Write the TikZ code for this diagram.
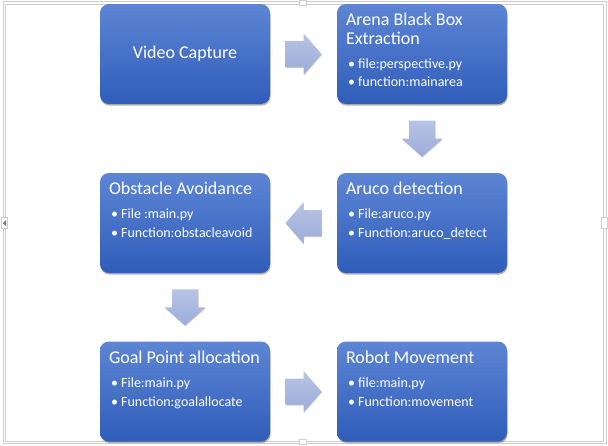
\documentclass[tikz,border=0pt]{standalone}
\usepackage{fontspec}
\setmainfont{Carlito}
\usetikzlibrary{shadows,calc}
\definecolor{boxtop}{RGB}{93,133,212}
\definecolor{boxbot}{RGB}{47,93,185}
\definecolor{arrtop}{RGB}{184,196,229}
\definecolor{arrbot}{RGB}{155,172,216}
\definecolor{framec}{RGB}{205,205,205}
\tikzset{
  flowbox/.style={rounded corners=9pt, minimum width=170pt, minimum height=100pt,
    inner sep=0pt, top color=boxtop, bottom color=boxbot,
    drop shadow={shadow xshift=0.6pt, shadow yshift=-1.6pt, opacity=0.3, fill=black}},
  titletxt/.style={anchor=base west, inner sep=0pt, text=white, font=\fontsize{18}{19}\selectfont},
  bullettxt/.style={anchor=base west, inner sep=0pt, text=white, font=\fontsize{14}{16}\selectfont},
  blockarr/.style={top color=arrtop, bottom color=arrbot, draw=none,
    drop shadow={shadow xshift=0.5pt, shadow yshift=-1pt, opacity=0.2, fill=black}},
  frameline/.style={draw=framec, line width=0.8pt}
}
\begin{document}
\begin{tikzpicture}[x=1pt, y=-1pt]
\useasboundingbox (0,0) rectangle (608,445);
\fill[white] (0,0) rectangle (608,445);
% frame (double)
\draw[frameline] (3,1.5) rectangle (606,443.5);
\draw[frameline] (5.5,4) rectangle (603.5,441.5);
\node[frameline, fill=white, minimum width=7pt, minimum height=5pt, inner sep=0pt] (htop) at (303,2.5) {};
\node[frameline, fill=white, minimum width=7pt, minimum height=5pt, inner sep=0pt] (hbot) at (303,442) {};
\node[frameline, fill=white, minimum width=6pt, minimum height=11pt, inner sep=0pt] (hleft) at (4.5,223) {};
\node[frameline, fill=white, minimum width=6pt, minimum height=11pt, inner sep=0pt] (hright) at (604.5,223) {};
\fill[black!55] (6,220) -- (3,223) -- (6,226) -- cycle;

% boxes
\node[flowbox] (vc) at (185,54) {};
\node[flowbox] (ar) at (422,54) {};
\node[flowbox] (ob) at (185,223) {};
\node[flowbox] (au) at (422,223) {};
\node[flowbox] (go) at (185,391.5) {};
\node[flowbox] (ro) at (422,391.5) {};

% texts
\node[text=white, inner sep=0pt, font=\fontsize{18}{19}\selectfont] (vct) at (vc.center) {Video Capture};

\node[titletxt] (art1) at ([shift={(9,22)}]ar.north west) {Arena Black Box};
\node[titletxt] (art2) at ([shift={(9,41)}]ar.north west) {Extraction};
\node[bullettxt] (arb1) at ([shift={(11,65)}]ar.north west) {•\hspace{3.2pt}file:perspective.py};
\node[bullettxt] (arb2) at ([shift={(11,83)}]ar.north west) {•\hspace{3.2pt}function:mainarea};

\node[titletxt] (aut) at ([shift={(9,22)}]au.north west) {Aruco detection};
\node[bullettxt] (aub1) at ([shift={(11,46)}]au.north west) {•\hspace{3.2pt}File:aruco.py};
\node[bullettxt] (aub2) at ([shift={(11,65)}]au.north west) {•\hspace{3.2pt}Function:aruco\_detect};

\node[titletxt] (obt) at ([shift={(9,22)}]ob.north west) {Obstacle Avoidance};
\node[bullettxt] (obb1) at ([shift={(11,46)}]ob.north west) {•\hspace{3.2pt}File :main.py};
\node[bullettxt] (obb2) at ([shift={(11,65)}]ob.north west) {•\hspace{3.2pt}Function:obstacleavoid};

\node[titletxt] (got) at ([shift={(9,22)}]go.north west) {Goal Point allocation};
\node[bullettxt] (gob1) at ([shift={(11,46)}]go.north west) {•\hspace{3.2pt}File:main.py};
\node[bullettxt] (gob2) at ([shift={(11,65)}]go.north west) {•\hspace{3.2pt}Function:goalallocate};

\node[titletxt] (rot) at ([shift={(9,22)}]ro.north west) {Robot Movement};
\node[bullettxt] (rob1) at ([shift={(11,46)}]ro.north west) {•\hspace{3.2pt}file:main.py};
\node[bullettxt] (rob2) at ([shift={(11,65)}]ro.north west) {•\hspace{3.2pt}Function:movement};

% block arrows (centres between boxes)
\coordinate (a1) at ($(vc.east)!0.5!(ar.west)$);
\coordinate (a2) at ($(ar.south)!0.5!(au.north)$);
\coordinate (a3) at ($(au.west)!0.5!(ob.east)$);
\coordinate (a4) at ($(ob.south)!0.5!(go.north)$);
\coordinate (a5) at ($(go.east)!0.5!(ro.west)$);
% right
\path[blockarr, shift={(a1)}] (-18,-13) -- (0,-13) -- (0,-20.5) -- (18,0) -- (0,20.5) -- (0,13) -- (-18,13) -- cycle;
\path[blockarr, shift={(a5)}] (-18,-13) -- (0,-13) -- (0,-20.5) -- (18,0) -- (0,20.5) -- (0,13) -- (-18,13) -- cycle;
% left
\path[blockarr, shift={(a3)}] (18,-13) -- (0,-13) -- (0,-20.5) -- (-18,0) -- (0,20.5) -- (0,13) -- (18,13) -- cycle;
% down
\path[blockarr, shift={(a2)}] (-13,-18) -- (-13,0) -- (-20.5,0) -- (0,18) -- (20.5,0) -- (13,0) -- (13,-18) -- cycle;
\path[blockarr, shift={(a4)}] (-13,-18) -- (-13,0) -- (-20.5,0) -- (0,18) -- (20.5,0) -- (13,0) -- (13,-18) -- cycle;
\end{tikzpicture}
\end{document}
